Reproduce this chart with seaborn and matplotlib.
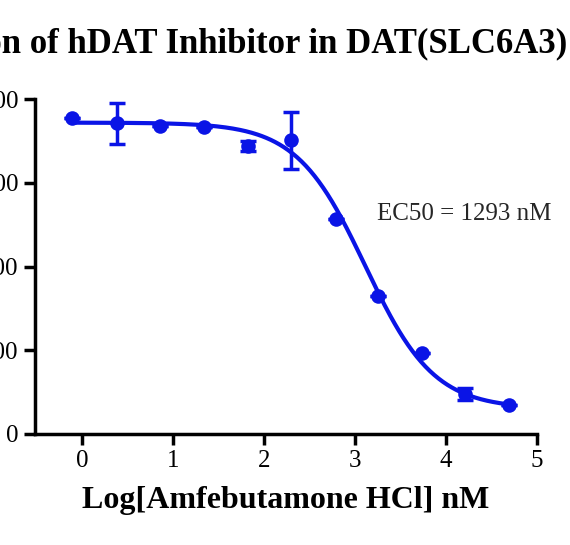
import numpy as np
import pandas as pd
import matplotlib.pyplot as plt
import seaborn as sns

# Data
log_conc = [-0.11, 0.38, 0.86, 1.34, 1.82, 2.30, 2.79, 3.25, 3.74, 4.21, 4.69]
response = [377, 371, 368, 367, 344, 351, 257, 165, 97, 48, 35]
err = [0, 25, 0, 0, 6, 34, 0, 0, 0, 7, 0]

# 4PL fit parameters
top, bottom, log_ec50, hill = 372, 30, np.log10(1293), 1.15

sns.set_style("ticks")
plt.rcParams['font.family'] = ['Liberation Serif', 'DejaVu Serif']

fig = plt.figure(figsize=(5.7, 5.45), dpi=100)
ax = fig.add_axes([0.061, 0.204, 0.881, 0.614])

blue = "#0a14e6"
xf = np.linspace(-0.11, 4.69, 300)
yf = bottom + (top - bottom) / (1 + 10 ** ((xf - log_ec50) * hill))
sns.lineplot(x=xf, y=yf, ax=ax, color=blue, linewidth=3)

df = pd.DataFrame({"x": log_conc, "y": response})
sns.scatterplot(data=df, x="x", y="y", ax=ax, color=blue, s=110, linewidth=0, zorder=3)
ax.errorbar(log_conc, response, yerr=err, fmt="none", ecolor=blue, elinewidth=2.5, capsize=6, capthick=2.5)

ax.set_xlim(-0.52, 5.0)
ax.set_ylim(0, 400)
ax.set_xticks(range(6))
ax.set_yticks([0, 100, 200, 300, 400])
ax.tick_params(width=2.5, length=8, labelsize=18, direction="out", color="black", labelcolor="black")
for s in ["left", "bottom"]:
    ax.spines[s].set_linewidth(2.5)
    ax.spines[s].set_color("black")
sns.despine(ax=ax)

ax.set_xlabel("Log[Amfebutamone HCl] nM", fontsize=23, fontweight="bold", labelpad=10, color="black")
ax.set_ylabel("")
ax.set_title("Evaluation of hDAT Inhibitor in DAT(SLC6A3) Cell Line", fontsize=25, fontweight="bold", pad=34, color="black")
ax.text(4.2, 263, "EC50 = 1293 nM", fontsize=18, ha="center", va="center")

fig.savefig("out.png", dpi=100)
